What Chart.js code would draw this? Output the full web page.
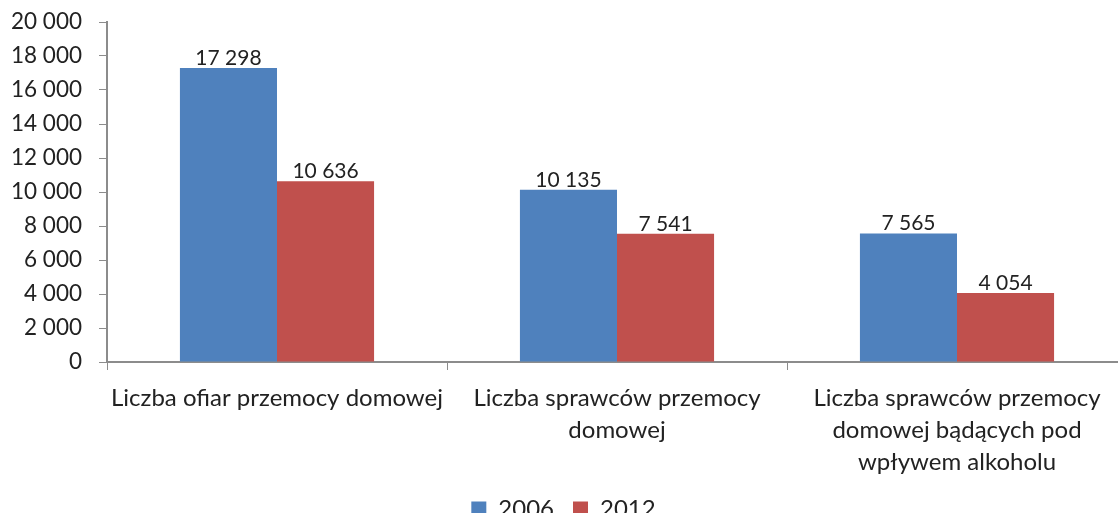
<!DOCTYPE html>
<html>
<head>
<meta charset="utf-8">
<script src="https://cdn.jsdelivr.net/npm/chart.js@4/dist/chart.umd.min.js"></script>
<style>
  html, body { margin: 0; padding: 0; background: #fff; overflow: hidden; }
  #wrap { width: 1127px; height: 513px; position: relative; }
</style>
</head>
<body>
<div id="wrap"><canvas id="chart"></canvas></div>
<script>
// values
const categories = [
  ["Liczba ofiar przemocy domowej"],
  ["Liczba sprawców przemocy", "domowej"],
  ["Liczba sprawców przemocy", "domowej bądących pod", "wpływem alkoholu"],
];
const seriesNames = ["2006", "2012"];
const values2006 = [17298, 10135, 7565];
const values2012 = [10636, 7541, 4054];
const yMin = 0;
const yMax = 20000;
const yStep = 2000;

const FONT = "Lato, 'Open Sans', sans-serif";
const TEXT = "#222";
const AXIS = "#8c8c8c";

function fmt(n) {
  return String(n).replace(/\B(?=(\d{3})+(?!\d))/g, " ");
}

// draws the value above each bar
const barLabels = {
  id: "barLabels",
  afterDatasetsDraw(chart) {
    const ctx = chart.ctx;
    ctx.save();
    ctx.font = "21px " + FONT;
    ctx.fillStyle = TEXT;
    ctx.textAlign = "center";
    ctx.textBaseline = "alphabetic";
    chart.data.datasets.forEach((ds, i) => {
      const meta = chart.getDatasetMeta(i);
      meta.data.forEach((bar, j) => {
        ctx.fillText(fmt(ds.data[j]), bar.x, bar.y - 3);
      });
    });
    ctx.restore();
  },
};

new Chart(document.getElementById("chart"), {
  type: "bar",
  data: {
    labels: categories,
    datasets: [
      {
        label: seriesNames[0],
        data: values2006,
        backgroundColor: "#4F81BD",
        categoryPercentage: 0.571,
        barPercentage: 1,
      },
      {
        label: seriesNames[1],
        data: values2012,
        backgroundColor: "#C0504D",
        categoryPercentage: 0.571,
        barPercentage: 1,
      },
    ],
  },
  options: {
    responsive: true,
    maintainAspectRatio: false,
    animation: false,
    layout: { padding: { top: 22, right: 0, left: 0, bottom: -18 } },
    plugins: {
      legend: {
        position: "bottom",
        labels: {
          font: { family: FONT, size: 24 },
          color: TEXT,
          boxWidth: 15,
          boxHeight: 15,
          padding: 19,
        },
      },
      tooltip: { enabled: false },
    },
    scales: {
      x: {
        afterFit(scale) {
          scale.height = 116;
        },
        grid: {
          drawOnChartArea: false,
          drawTicks: true,
          tickLength: 8,
          color: AXIS,
          offset: true,
        },
        border: { color: AXIS, width: 2 },
        ticks: {
          font: { family: FONT, size: 24, lineHeight: 1.33 },
          color: TEXT,
          maxRotation: 0,
          autoSkip: false,
          padding: 12,
        },
      },
      y: {
        min: yMin,
        max: yMax,
        afterFit(scale) {
          scale.width = 107;
          scale.paddingTop = 0;
          scale.paddingBottom = 0;
        },
        grid: {
          drawOnChartArea: false,
          drawTicks: true,
          tickLength: 8,
          color: AXIS,
        },
        border: { color: AXIS, width: 2 },
        ticks: {
          stepSize: yStep,
          font: { family: FONT, size: 22.5 },
          color: TEXT,
          padding: 17,
          callback: (v) => fmt(v),
        },
      },
    },
  },
  plugins: [barLabels],
});
</script>
</body>
</html>
